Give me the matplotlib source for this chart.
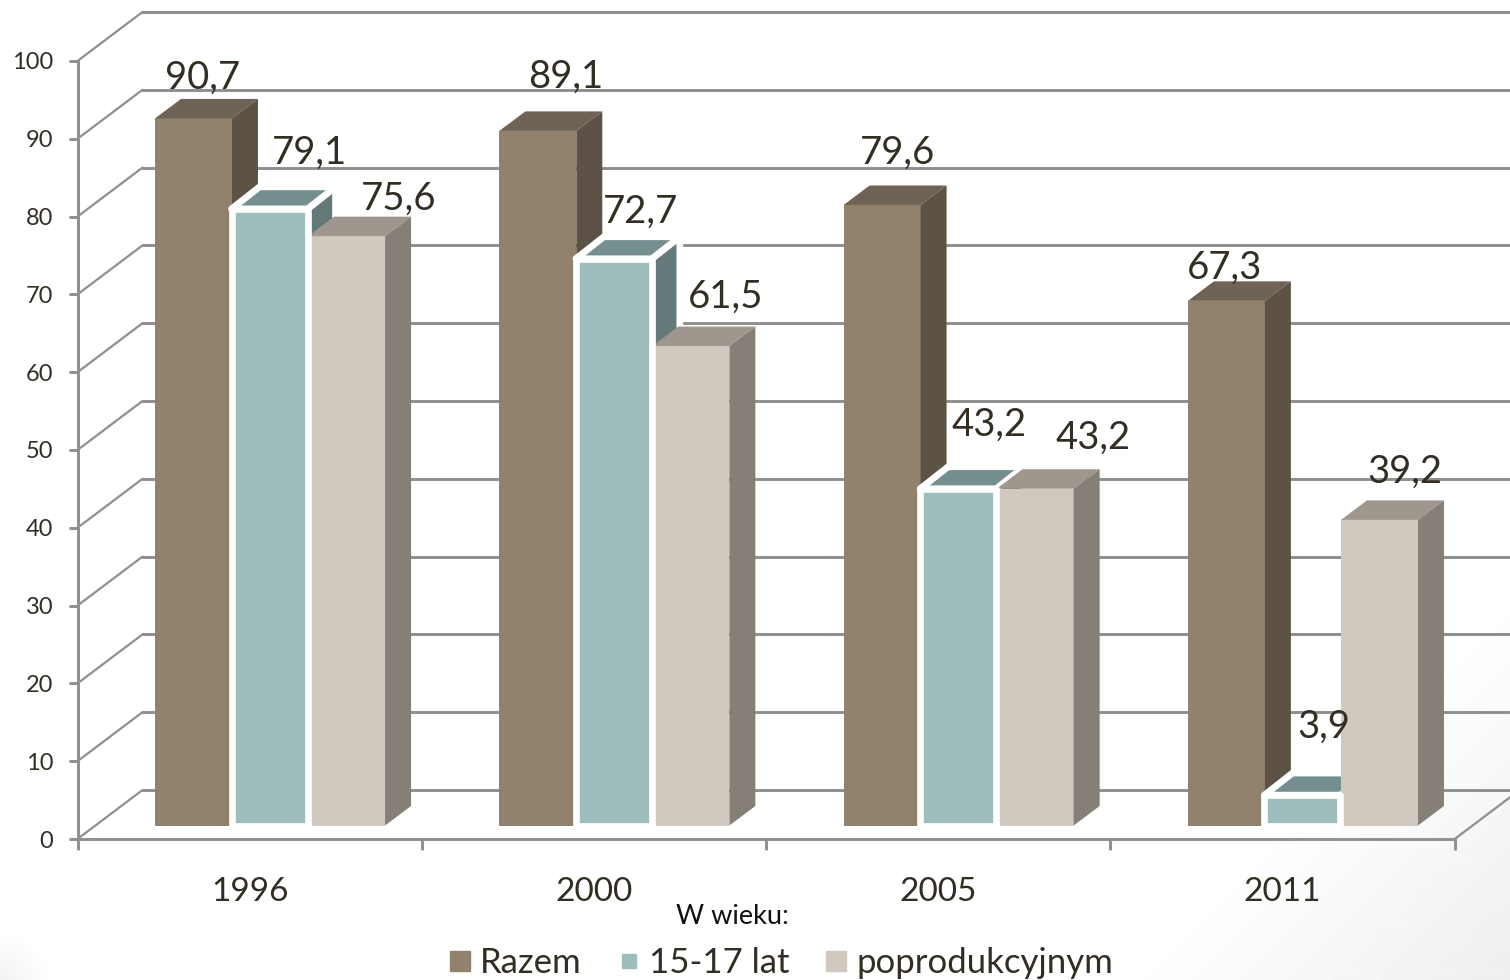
import numpy as np
import matplotlib
matplotlib.use('Agg')
import matplotlib.pyplot as plt
from matplotlib.lines import Line2D
from matplotlib.patches import Polygon, Rectangle

years = ['1996', '2000', '2005', '2011']
razem = [90.7, 89.1, 79.6, 67.3]
lat_15_17 = [79.1, 72.7, 43.2, 3.9]
poprodukcyjnym = [75.6, 61.5, 43.2, 39.2]
y_ticks = [0, 10, 20, 30, 40, 50, 60, 70, 80, 90, 100]
legend_labels = ['Razem', '15-17 lat', 'poprodukcyjnym']

# colours: front, top, side
brown = ('#91816d', '#6f6355', '#5c5245')
teal = ('#9dbebc', '#748f8e', '#64797a')
beige = ('#d1c8bf', '#9f968e', '#857f77')
grid_col = '#8f8f8f'
text_col = '#332e24'

# scale of the picture
PX_CAT = 344.3
PX_VAL = 7.78
W, H = 1510, 980
X0, Y0 = 77.5, 839

# label offsets from top centre of the front face, px (placed by hand in the original)
off_razem = [(9.5, 41), (28, 54.5), (15, 52.5), (-1.4, 33.5)]
off_lat = [(39, 56.5), (26, 47.5), (30.4, 63.5), (21, 68.5)]
off_pop = [(52.5, 37.5), (35, 49.5), (58, 50.5), (25.6, 48.5)]

plt.rcParams['font.family'] = ['Lato', 'DejaVu Sans']
fig = plt.figure(figsize=(W / 100, H / 100), dpi=100)
ax = fig.add_axes([0, 0, 1, 1])
xmin, xmax = -X0 / PX_CAT, (W - X0) / PX_CAT
ymin, ymax = -(H - Y0) / PX_VAL, Y0 / PX_VAL
ax.set_xlim(xmin, xmax)
ax.set_ylim(ymin, ymax)
ax.patch.set_alpha(0)

# faint grey in the bottom corners of the slide
yy, xx = np.mgrid[0:H, 0:W]
shade = np.clip((xx + yy - 2100) / 390, 0, 1) * 0.065
shade2 = np.clip(1 - np.hypot(xx, H - yy) / 50, 0, 1) * 0.05
ax.imshow(1 - shade - shade2, cmap='gray', vmin=0, vmax=1, extent=(xmin, xmax, ymin, ymax),
          aspect='auto', origin='upper', zorder=0)

wall_dx = 65 / PX_CAT
wall_dy = 49 / PX_VAL
for t in y_ticks:
    ax.plot([0, wall_dx], [t, t + wall_dy], color=grid_col, lw=1.6, zorder=1, solid_capstyle='round')
    ax.plot([wall_dx, xmax], [t + wall_dy, t + wall_dy], color=grid_col, lw=2.1, zorder=1)
ax.plot([4, 4 + wall_dx], [0, wall_dy], color=grid_col, lw=1.6, zorder=1)

# axes
for s in ['top', 'right']:
    ax.spines[s].set_visible(False)
ax.spines['left'].set_position(('data', 0))
ax.spines['bottom'].set_position(('data', 0))
ax.spines['left'].set_bounds(0, 100)
ax.spines['bottom'].set_bounds(0, 4)
for s in ['left', 'bottom']:
    ax.spines[s].set_color(grid_col)
    ax.spines[s].set_linewidth(2.1)
    ax.spines[s].set_zorder(1.5)
ax.set_yticks(y_ticks)
ax.set_xticks([0, 1, 2, 3, 4])
ax.set_xticklabels([])
ax.set_xticks([0.5, 1.5, 2.5, 3.5], labels=years, minor=True)
ax.tick_params(axis='y', length=6.5, width=2.1, color=grid_col, labelcolor=text_col, labelsize=17, pad=11)
ax.tick_params(axis='x', which='major', length=8, width=2.1, color=grid_col)
ax.tick_params(axis='x', which='minor', length=0, labelcolor=text_col, labelsize=24, pad=27)


def box_points(x, w, y0, y1, dx, dy):
    top = [(x, y1), (x + w, y1), (x + w + dx, y1 + dy), (x + dx, y1 + dy)]
    side = [(x + w, y0), (x + w + dx, y0 + dy), (x + w + dx, y1 + dy), (x + w, y1)]
    return top, side


bar_w = 77 / PX_CAT
bar_off = [0.2236 + 0.5 / PX_CAT, 0.4459 + 0.5 / PX_CAT, 0.6682 + 0.5 / PX_CAT]
base = 13.5 / PX_VAL
v_scale = 1.002
dx1, dy1 = 26 / PX_CAT, 19.5 / PX_VAL
dx2, dy2 = 28 / PX_CAT, 22 / PX_VAL
white_lw = 4.8

for i in range(len(years)):
    z = 2
    # Razem
    x = i + bar_off[0]
    y1 = base + razem[i] * v_scale
    top, side = box_points(x, bar_w, base, y1, dx1, dy1)
    ax.add_patch(Rectangle((x, base), bar_w, y1 - base, fc=brown[0], ec='none', zorder=z))
    ax.add_patch(Polygon(top, fc=brown[1], ec='none', zorder=z))
    ax.add_patch(Polygon(side, fc=brown[2], ec='none', zorder=z))

    # 15-17 lat, top and side go under the next bar, the front frame over it
    x = i + bar_off[1]
    w = bar_w - 1 / PX_CAT
    y1 = base + lat_15_17[i] * v_scale
    top, side = box_points(x, w, base, y1, dx2, dy2)
    ax.add_patch(Polygon(side, fc=teal[2], ec='white', lw=white_lw, joinstyle='round', zorder=z + 0.1))
    ax.add_patch(Polygon(top, fc=teal[1], ec='white', lw=white_lw, joinstyle='round', zorder=z + 0.2))
    ax.add_patch(Rectangle((x, base), w, y1 - base, fc=teal[0], ec='white', lw=white_lw,
                           joinstyle='round', zorder=z + 0.6))

    # poprodukcyjnym
    x = i + bar_off[2]
    y1 = base + poprodukcyjnym[i] * v_scale
    top, side = box_points(x, bar_w, base, y1, dx1, dy1)
    ax.add_patch(Rectangle((x, base), bar_w, y1 - base, fc=beige[0], ec='none', zorder=z + 0.3))
    ax.add_patch(Polygon(top, fc=beige[1], ec='none', zorder=z + 0.3))
    ax.add_patch(Polygon(side, fc=beige[2], ec='none', zorder=z + 0.3))

    # value labels
    for k, (vals, offs) in enumerate([(razem, off_razem), (lat_15_17, off_lat), (poprodukcyjnym, off_pop)]):
        lab = f'{vals[i]:.1f}'.replace('.', ',')
        ax.annotate(lab, xy=(i + bar_off[k] + bar_w / 2, base + vals[i] * v_scale), xytext=offs[i],
                    textcoords='offset pixels', ha='center', va='center', fontsize=27.5,
                    color=text_col, zorder=5)

ax.text(732 / W, (H - 916) / H, 'W wieku:', transform=ax.transAxes, ha='center', va='center',
        fontsize=19.5, color='#111111')

handles = [
    Line2D([], [], ls='none', marker='s', ms=15, color=brown[0]),
    Line2D([], [], ls='none', marker='s', ms=10, color=teal[0]),
    Line2D([], [], ls='none', marker='s', ms=15, color=beige[0]),
]
ax.legend(handles, legend_labels, loc='center', bbox_to_anchor=(778 / W, (H - 963) / H), ncol=3,
          frameon=False, fontsize=25, labelcolor=text_col, handlelength=1.0, handletextpad=0.09,
          columnspacing=0.85, borderpad=0, borderaxespad=0)

fig.savefig('out.png', dpi=100)
